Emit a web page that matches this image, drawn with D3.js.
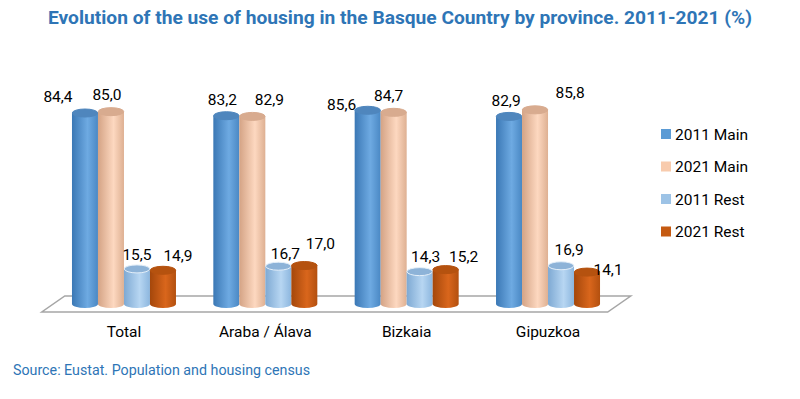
<!DOCTYPE html>
<html>
<head>
<meta charset="utf-8">
<script src="https://cdn.jsdelivr.net/npm/d3@7/dist/d3.min.js"></script>
<style>
  html, body { margin: 0; padding: 0; background: #fff; }
  svg { display: block; }
  text { font-family: Roboto, "Noto Sans", sans-serif; }
</style>
</head>
<body>
<svg id="chart" width="800" height="399"></svg>
<script>
// ---- data ----
const titleText = "Evolution of the use of housing in the Basque Country by province. 2011-2021 (%)";
const sourceText = "Source: Eustat. Population and housing census";
const categories = ["Total", "Araba / Álava", "Bizkaia", "Gipuzkoa"];
const seriesNames = ["2011 Main", "2021 Main", "2011 Rest", "2021 Rest"];
const main2011 = [84.4, 83.2, 85.6, 82.9];
const main2021 = [85.0, 82.9, 84.7, 85.8];
const rest2011 = [15.5, 16.7, 14.3, 16.9];
const rest2021 = [14.9, 17.0, 15.2, 14.1];
const seriesValues = [main2011, main2021, rest2011, rest2021];

// ---- styling / layout (not data) ----
const colors = {
  "2011 Main": { side: ["#3b78b5", "#6eaae2", "#4a88c4"], top: "#4f86bd", rim: "#4f86bd", legend: "#5b9bd5" },
  "2021 Main": { side: ["#d4a385", "#fdd8c0", "#deb092"], top: "#d8ab8f", rim: "#d8ab8f", legend: "#f8cbad" },
  "2011 Rest": { side: ["#7ea9d3", "#b7d6f2", "#8cb6de"], top: "#8db3d8", rim: "#e4eff9", legend: "#9dc3e6" },
  "2021 Rest": { side: ["#a4470b", "#d9661c", "#b3500f"], top: "#b5520f", rim: "#b5520f", legend: "#c55a11" }
};
// per-label nudges [series][category] relative to top of cylinder
const labelNudge = [
  [[-27, -11], [-4, -11], [-26, 0], [-3, -10]],
  [[-4, -12], [17, -11], [-5, -11], [35, -12]],
  [[0, -9], [7, -7], [6, -10], [8, -11]],
  [[15, -9], [16, -17], [18, -8], [21, 3]]
];

const svg = d3.select("#chart");
const fmt = v => d3.format(".1f")(v).replace(".", ",");

const x = d3.scaleBand().domain(categories).range([53.3, 618.7]).paddingInner(0).paddingOuter(0);
const xs = d3.scaleBand().domain(seriesNames).range([-52, 52]);
const y = d3.scaleLinear().domain([0, 100]).range([304, 77.7]);
const rx = xs.bandwidth() / 2, ry = 4;

// gradients
const defs = svg.append("defs");
seriesNames.forEach((s, i) => {
  const g = defs.append("linearGradient").attr("id", "g" + i)
    .attr("x1", "0%").attr("x2", "100%").attr("y1", "0%").attr("y2", "0%");
  g.append("stop").attr("offset", "0%").attr("stop-color", colors[s].side[0]);
  g.append("stop").attr("offset", "60%").attr("stop-color", colors[s].side[1]);
  g.append("stop").attr("offset", "100%").attr("stop-color", colors[s].side[2]);
});

// title
svg.append("text")
  .attr("x", 400).attr("y", 24)
  .attr("text-anchor", "middle")
  .attr("font-size", 18.5).attr("font-weight", "bold")
  .attr("fill", "#2e75b6")
  .attr("textLength", 704).attr("lengthAdjust", "spacingAndGlyphs")
  .text(titleText);

// floor
const [r0, r1] = x.range();
const y0 = y(0);
const floorPts = [
  [r0 - 11.5, y0 + 8], [r1 - 11, y0 + 8],
  [r1 + 12, y0 - 8], [r0 + 11.5, y0 - 8]
];
svg.append("polygon")
  .attr("points", floorPts.map(p => p.join(",")).join(" "))
  .attr("fill", "#fff").attr("stroke", "#a6a6a6").attr("stroke-width", 1.5);

// cylinders
const bars = [];
categories.forEach((c, ci) => {
  seriesNames.forEach((s, si) => {
    bars.push({ c, ci, s, si, v: seriesValues[si][ci] });
  });
});

const g = svg.append("g");
const cyl = g.selectAll("g.cyl").data(bars).join("g").attr("class", "cyl");
cyl.append("path")
  .attr("d", d => {
    const cx = x(d.c) + x.bandwidth() / 2 + xs(d.s) + rx;
    const yt = y(d.v), yb = y(0);
    return `M${cx - rx},${yt} L${cx - rx},${yb} A${rx},${ry} 0 0 0 ${cx + rx},${yb} L${cx + rx},${yt} Z`;
  })
  .attr("fill", d => `url(#g${d.si})`);
cyl.append("ellipse")
  .attr("cx", d => x(d.c) + x.bandwidth() / 2 + xs(d.s) + rx)
  .attr("cy", d => y(d.v))
  .attr("rx", rx - 0.3).attr("ry", ry)
  .attr("fill", d => colors[d.s].top)
  .attr("stroke", d => colors[d.s].rim)
  .attr("stroke-width", 1);

// value labels
g.selectAll("text.val").data(bars).join("text").attr("class", "val")
  .attr("x", d => x(d.c) + x.bandwidth() / 2 + xs(d.s) + rx + labelNudge[d.si][d.ci][0])
  .attr("y", d => y(d.v) + labelNudge[d.si][d.ci][1])
  .attr("text-anchor", "middle")
  .attr("font-size", 15.5).attr("fill", "#000")
  .text(d => fmt(d.v));

// category axis labels
const xAxis = d3.axisBottom(x).tickSize(0).tickPadding(0);
const ax = svg.append("g").attr("transform", `translate(0, 326)`).call(xAxis);
ax.select(".domain").remove();
ax.selectAll("text").attr("font-size", 15.5).attr("fill", "#000")
  .attr("font-family", "Roboto, 'Noto Sans', sans-serif");

// legend
const legend = svg.append("g").attr("transform", "translate(661, 134)");
const li = legend.selectAll("g").data(seriesNames).join("g")
  .attr("transform", (d, i) => `translate(0, ${i * 32.5})`);
li.append("rect").attr("x", 0).attr("y", -5).attr("width", 10).attr("height", 10)
  .attr("fill", d => colors[d].legend);
li.append("text").attr("x", 14).attr("y", 5.5)
  .attr("font-size", 15.5).attr("fill", "#000").text(d => d);

// source
svg.append("text").attr("x", 13).attr("y", 375)
  .attr("font-size", 14).attr("fill", "#2e75b6")
  .attr("textLength", 297).attr("lengthAdjust", "spacingAndGlyphs")
  .text(sourceText);
</script>
</body>
</html>
